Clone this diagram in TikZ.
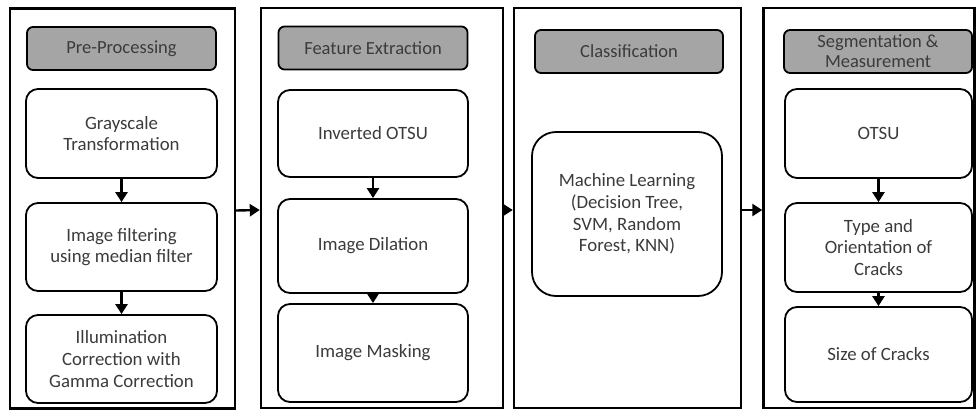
\documentclass[tikz,border=0pt]{standalone}
\usepackage{fontspec}
\setmainfont{Carlito}
\usepackage{tikz}
\usetikzlibrary{arrows.meta}
\definecolor{ink}{HTML}{000000}
\definecolor{txt}{HTML}{3B3B3B}
\definecolor{headfill}{HTML}{A5A5A5}
\tikzset{
  panel/.style={draw=ink, line width=2.4pt, inner sep=0pt, minimum height=400pt},
  head/.style={draw=ink, fill=headfill, line width=1.8pt, rounded corners=6pt,
    inner sep=0pt, minimum width=189pt, minimum height=43pt, align=center,
    text=txt, font=\fontsize{18.5}{20}\selectfont},
  stage/.style={draw=ink, line width=1.8pt, rounded corners=12pt, inner sep=0pt,
    minimum width=190pt, align=center, text=txt, font=\fontsize{18.8}{21.7}\selectfont},
  flow/.style={draw=ink, line width=2.4pt, -{Triangle[length=10pt,width=12pt]}},
}
\begin{document}
\begin{tikzpicture}[x=1pt,y=-1pt]
  \useasboundingbox (0,0) rectangle (978,410);
  % panels
  \node[panel, minimum width=225pt] (p1) at (122.5,208.5) {};
  \node[panel, minimum width=242pt] (p2) at (382,208) {};
  \node[panel, minimum width=227pt] (p3) at (627.5,208) {};
  \node[panel, minimum width=211pt] (p4) at (869,208) {};
  % pre-processing
  \node[head] (h1) at (121.5,48.5) {Pre-Processing};
  \node[stage, minimum width=191pt, minimum height=89pt] (a1) at (121.5,133.5) {Grayscale\\Transformation};
  \node[stage, minimum width=191pt, minimum height=88pt] (a2) at (121.5,247) {Image filtering\\using median filter};
  \node[stage, minimum width=191pt, minimum height=88pt] (a3) at (121.5,359) {Illumination\\Correction with\\Gamma Correction};
  % feature extraction
  \node[head] (h2) at (373,48) {Feature Extraction};
  \node[stage, minimum height=87pt] (b1) at (373,133.5) {Inverted OTSU};
  \node[stage, minimum height=94pt] (b2) at (373,246) {Image Dilation};
  \node[stage, minimum height=98pt] (b3) at (373,353) {Image Masking};
  % classification
  \node[head, minimum width=188pt] (h3) at (629,51.5) {Classification};
  \node[stage, minimum height=164pt, rounded corners=24pt] (c1) at (627,214) {Machine Learning\\(Decision Tree,\\SVM, Random\\Forest, KNN)};
  % segmentation
  \node[head, minimum width=188pt] (h4) at (878,51.5) {Segmentation \&\\Measurement};
  \node[stage, minimum width=187pt, minimum height=89pt] (d1) at (878.5,133.5) {OTSU};
  \node[stage, minimum width=187pt, minimum height=89pt] (d2) at (878.5,247.5) {Type and\\Orientation of\\Cracks};
  \node[stage, minimum width=187pt, minimum height=95pt] (d3) at (878.5,354.5) {Size of Cracks};
  % connectors
  \foreach \a/\b in {a1/a2,a2/a3,b1/b2,b2/b3,d1/d2,d2/d3}
    \draw[flow] (\a.south) -- (\b.north);
  \foreach \a/\b in {p1/p2,p2/p3,p3/p4}
    \draw[flow] ([yshift=-2pt]\a.east) -- ([yshift=-2pt]\b.west);
\end{tikzpicture}
\end{document}
